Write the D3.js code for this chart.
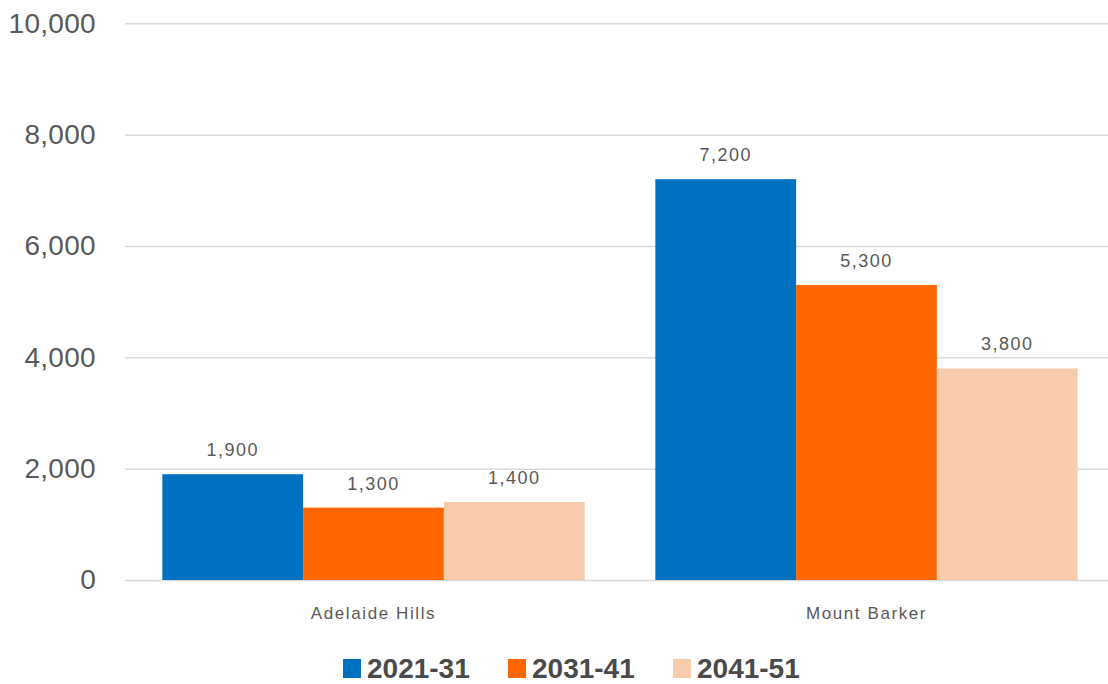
<!DOCTYPE html>
<html>
<head>
<meta charset="utf-8">
<script src="https://cdn.jsdelivr.net/npm/d3@7"></script>
<style>
  html, body { margin: 0; padding: 0; background: #ffffff; }
  svg { display: block; }
</style>
</head>
<body>
<svg id="chart" width="1108" height="684"></svg>
<script>
const categories = ["Adelaide Hills", "Mount Barker"];
const seriesNames = ["2021-31", "2031-41", "2041-51"];
const series2021 = [1900, 7200];
const series2031 = [1300, 5300];
const series2041 = [1400, 3800];
const yTicks = [0, 2000, 4000, 6000, 8000, 10000];
const colors = ["#0070C0", "#FF6600", "#F8CBAD"];

const seriesValues = [series2021, series2031, series2041];
const data = categories.map((c, i) => ({
  cat: c,
  vals: seriesNames.map((s, j) => ({ key: s, value: seriesValues[j][i], color: colors[j] }))
}));

const svg = d3.select("#chart");
const fmt = d3.format(",");

const y = d3.scaleLinear().domain([0, 10000]).range([580, 23.3]);
const x0 = d3.scaleBand().domain(categories).range([127, 1113])
  .paddingInner(0.1434).paddingOuter(0.0717);
const x1 = d3.scaleBand().domain(seriesNames).range([0, x0.bandwidth()]).padding(0);

// gridlines
const yAxis = d3.axisLeft(y).tickValues(yTicks).tickSize(-(1108 - 125)).tickFormat(fmt).tickPadding(29);
const gy = svg.append("g").attr("transform", "translate(125,0)").call(yAxis);
gy.select(".domain").remove();
gy.selectAll(".tick line").attr("stroke", "#d9d9d9").attr("stroke-width", 1.5);
gy.selectAll(".tick text")
  .attr("fill", "#595959")
  .style("font-family", "'Liberation Sans', Arial, sans-serif")
  .style("font-size", "28px")
  .style("letter-spacing", "0.3px");

// bars
const groups = svg.append("g").selectAll("g").data(data).join("g")
  .attr("transform", d => `translate(${x0(d.cat)},0)`);

groups.selectAll("rect").data(d => d.vals).join("rect")
  .attr("x", d => x1(d.key))
  .attr("width", x1.bandwidth())
  .attr("y", d => y(d.value))
  .attr("height", d => y(0) - y(d.value))
  .attr("fill", d => d.color);

groups.selectAll("text.val").data(d => d.vals).join("text")
  .attr("class", "val")
  .attr("x", d => x1(d.key) + x1.bandwidth() / 2)
  .attr("y", d => y(d.value) - 18)
  .attr("text-anchor", "middle")
  .attr("fill", "#595959")
  .style("font-family", "'Liberation Sans', Arial, sans-serif")
  .style("font-size", "18px")
  .style("letter-spacing", "1.5px")
  .text(d => fmt(d.value));

// category axis labels
const xAxis = d3.axisBottom(x0).tickSize(0).tickPadding(0);
const gx = svg.append("g").attr("transform", "translate(0,605)").call(xAxis);
gx.select(".domain").remove();
gx.selectAll(".tick text")
  .attr("fill", "#595959")
  .attr("dy", "0.8em")
  .style("font-family", "'Liberation Sans', Arial, sans-serif")
  .style("font-size", "17px")
  .style("letter-spacing", "1.6px");

// legend
const legend = svg.append("g").attr("transform", "translate(343,0)");
const items = legend.selectAll("g").data(seriesNames).join("g")
  .attr("transform", (d, i) => `translate(${i * 165},0)`);
items.append("rect").attr("x", 0).attr("y", 659).attr("width", 18).attr("height", 19)
  .attr("fill", (d, i) => colors[i]);
items.append("text").attr("x", 24).attr("y", 678)
  .attr("fill", "#4a4a4a")
  .style("font-family", "'Liberation Sans', Arial, sans-serif")
  .style("font-weight", "bold")
  .style("font-size", "28px")
  .text(d => d);
</script>
</body>
</html>
